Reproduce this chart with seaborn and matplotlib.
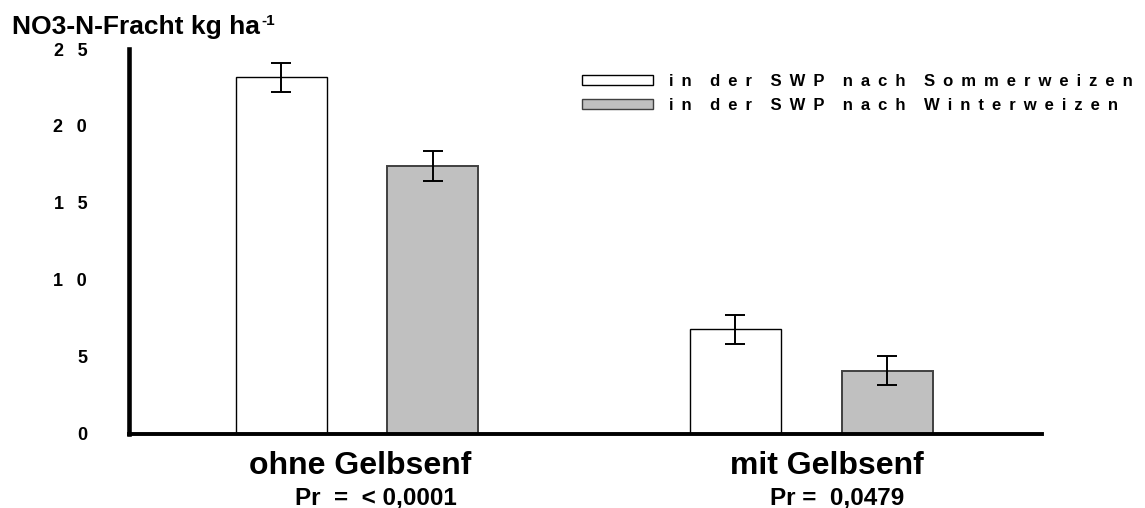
import matplotlib
matplotlib.use("Agg")
import matplotlib.pyplot as plt
import matplotlib.transforms as mtransforms
import numpy as np
import pandas as pd
import seaborn as sns

# ---- data ----
categories = ["ohne Gelbsenf", "mit Gelbsenf"]
p_values = ["Pr  =  < 0,0001", "Pr =  0,0479"]
series = ["in der SWP nach Sommerweizen", "in der SWP nach Winterweizen"]
sommer_means = [23.15, 6.78]
sommer_err = [0.95, 0.95]
winter_means = [17.39, 4.08]
winter_err = [1.0, 0.95]
ytick_values = [0, 5, 10, 15, 20, 25]
ytick_labels = ["0", "5", "1  \u20090", "1  \u20095", "2  \u20090", "2  \u20095"]
y_title = "NO3-N-Fracht kg ha"


def spaced(text, letter_sep=" \u2009", word_sep="    "):
    return word_sep.join(letter_sep.join(w) for w in text.split(" "))


df = pd.DataFrame({
    "Variante": categories * 2,
    "Serie": [series[0]] * 2 + [series[1]] * 2,
    "Fracht": sommer_means + winter_means,
    "Fehler": sommer_err + winter_err,
})

sns.set_theme(style="white")
plt.rcParams["font.family"] = ["Liberation Sans", "DejaVu Sans"]
plt.rcParams["font.weight"] = "bold"
plt.rcParams["text.color"] = "black"
plt.rcParams["ytick.color"] = "black"
plt.rcParams["xtick.color"] = "black"
plt.rcParams["axes.labelcolor"] = "black"

fig = plt.figure(figsize=(11.45, 5.08), dpi=100)
ax = fig.add_axes([129 / 1145, 1 - 433.5 / 508, (1042 - 129) / 1145, (433.5 - 49) / 508])

fills = ["#FFFFFF", "#C0C0C0"]
edges = ["#000000", "#404040"]
sns.barplot(data=df, x="Variante", y="Fracht", hue="Serie", order=categories,
            hue_order=series, palette=fills, width=0.668, gap=0.4,
            errorbar=None, legend=False, ax=ax, linewidth=1.2)

bar_containers = list(ax.containers)
for i, cont in enumerate(bar_containers):
    errs = df[df["Serie"] == series[i]]["Fehler"].values
    xs, ys = [], []
    for bar in cont:
        bar.set_edgecolor(edges[i])
        bar.set_linewidth(1.0 if i == 0 else 1.4)
        xs.append(bar.get_x() + bar.get_width() / 2)
        ys.append(bar.get_height())
    ax.errorbar(xs, ys, yerr=errs, fmt="none", ecolor="black", elinewidth=1.4,
                capsize=7.2, capthick=1.4, zorder=5)

ax.set_xlim(-0.502, 1.508)
ax.set_ylim(0, 25)
ax.set_yticks(ytick_values)
ax.set_yticklabels(ytick_labels, fontsize=13, fontweight="bold")
ax.set_xticks([])
ax.set_xlabel("")
ax.set_ylabel("")
for s in ["top", "right"]:
    ax.spines[s].set_visible(False)
ax.spines["left"].set_linewidth(3.3)
ax.spines["bottom"].set_linewidth(2.8)
for s in ["left", "bottom"]:
    ax.spines[s].set_color("black")
ax.tick_params(axis="y", direction="out", length=8.6, width=2.2, pad=21.5, colors="black")

# category labels and p-values
trans = mtransforms.blended_transform_factory(ax.transData, fig.transFigure)
cat_offsets = [0.008, 0.035]
p_offsets = [0.041, 0.058]
for i, (c, p) in enumerate(zip(categories, p_values)):
    ax.text(i + cat_offsets[i], 1 - 473.5 / 508, c, transform=trans, ha="center",
            va="baseline", fontsize=23, fontweight="bold")
    ax.text(i + p_offsets[i], 1 - 504 / 508, p, transform=trans, ha="center",
            va="baseline", fontsize=17.5, fontweight="bold")

# y title
t = fig.text(12 / 1145, 1 - 34 / 508, y_title, ha="left", va="baseline",
             fontsize=19, fontweight="bold")
fig.canvas.draw()
bb = t.get_window_extent()
fig.text(bb.x1 / 1145 + 0.001, 1 - 25 / 508, "-1", ha="left", va="baseline",
         fontsize=11, fontweight="bold")

# legend
handles = [plt.Rectangle((0, 0), 1, 1, facecolor=fills[i], edgecolor=edges[i], linewidth=1.0)
           for i in range(2)]
fig.legend(handles, [spaced(s) for s in series], loc="upper left",
           bbox_to_anchor=(582 / 1145, 1 - 74 / 508), frameon=False,
           prop={"weight": "bold", "size": 12},
           handlelength=4.26, handleheight=0.54, handletextpad=0.96,
           labelspacing=0.53, borderpad=0, borderaxespad=0)

fig.savefig("out.png", dpi=100)
